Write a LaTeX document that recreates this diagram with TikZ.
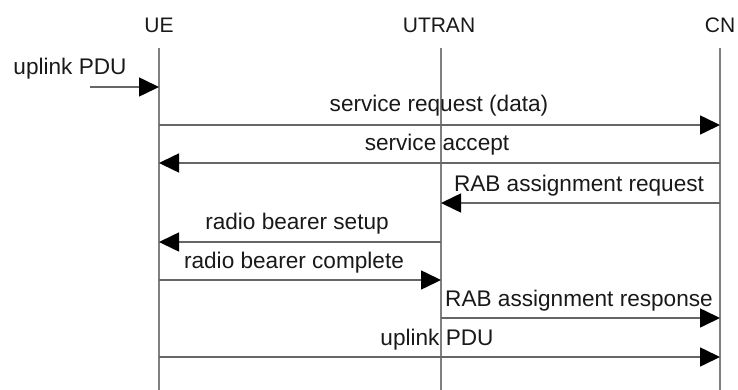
\documentclass[tikz,border=0pt]{standalone}
\usepackage{fontspec}
\setmainfont{Liberation Sans}
\usetikzlibrary{arrows.meta}
\begin{document}
\begin{tikzpicture}[x=1pt,y=-1pt,
  hdr/.style={font=\fontsize{21}{24}\selectfont, anchor=base, inner sep=0pt, text=black!90},
  lbl/.style={font=\fontsize{22.6}{26}\selectfont, anchor=base, inner sep=0pt, text=black!90},
  life/.style={draw=black!50, line width=1.5pt},
  msg/.style={draw=black!60, line width=1.6pt, -{Triangle[length=20pt,width=19pt,color=black]}}]
\useasboundingbox (0,0) rectangle (738,390);
% headers
\node[hdr] (UE) at (159,33) {UE};
\node[hdr] (UTRAN) at (439,33) {UTRAN};
\node[hdr] (CN) at (720,33) {CN};
% lifelines
\coordinate (ueT) at (159,48);   \coordinate (ueB) at (159,390);
\coordinate (utT) at (441,48);   \coordinate (utB) at (441,390);
\coordinate (cnT) at (720,48);   \coordinate (cnB) at (720,390);
\draw[life] (ueT) -- (ueB);
\draw[life] (utT) -- (utB);
\draw[life] (cnT) -- (cnB);
% message end points
\coordinate (in0) at (90,87);   \coordinate (ue0) at (159,87);
\coordinate (ue1) at (159,125); \coordinate (cn1) at (720,125);
\coordinate (cn2) at (720,163); \coordinate (ue2) at (159,163);
\coordinate (cn3) at (720,203); \coordinate (ut3) at (441,203);
\coordinate (ut4) at (441,242); \coordinate (ue4) at (159,242);
\coordinate (ue5) at (159,280); \coordinate (ut5) at (441,280);
\coordinate (ut6) at (441,318); \coordinate (cn6) at (720,318);
\coordinate (ue7) at (159,357); \coordinate (cn7) at (720,357);
% messages
\draw[msg] (in0) -- (ue0);
\draw[msg] (ue1) -- (cn1);
\draw[msg] (cn2) -- (ue2);
\draw[msg] (cn3) -- (ut3);
\draw[msg] (ut4) -- (ue4);
\draw[msg] (ue5) -- (ut5);
\draw[msg] (ut6) -- (cn6);
\draw[msg] (ue7) -- (cn7);
% labels
\node[lbl] (l0) at (70,75) {uplink PDU};
\node[lbl] (l1) at (439,112) {service request (data)};
\node[lbl] (l2) at (437,151) {service accept};
\node[lbl] (l3) at (579,191) {RAB assignment request};
\node[lbl] (l4) at (297,229) {radio bearer setup};
\node[lbl] (l5) at (294,268) {radio bearer complete};
\node[lbl] (l6) at (579,306) {RAB assignment response};
\node[lbl] (l7) at (437,345) {uplink PDU};
\end{tikzpicture}
\end{document}
